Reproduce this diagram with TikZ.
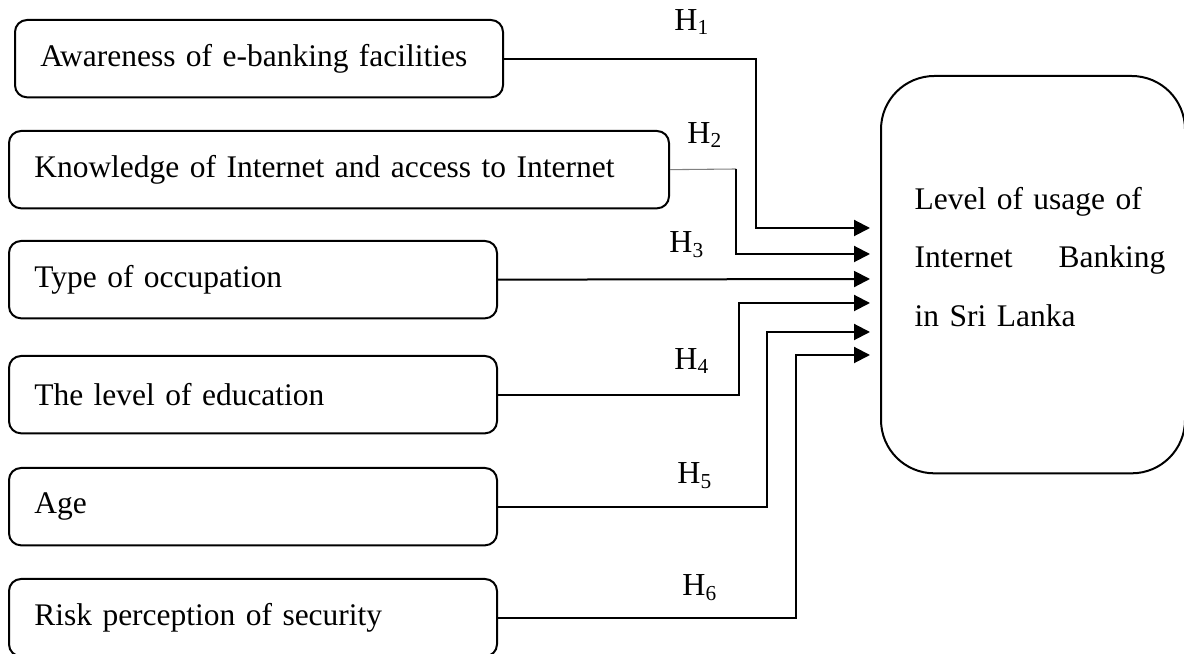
\documentclass[tikz,border=0pt]{standalone}
\usepackage{fontspec}
\setmainfont{Liberation Serif}
\usepackage{tikz}
\usetikzlibrary{positioning,arrows.meta,calc}

\begin{document}
\begin{tikzpicture}[
    x=0.375pt, y=-0.375pt,
    factor/.style={draw, rounded corners=4.5pt, line width=0.75pt, anchor=north west,
                   font=\fontsize{11.8}{14}\selectfont, align=left, inner xsep=9.5pt,
                   text width=164pt, minimum height=29pt},
    wide/.style={text width=228.5pt},
    usage/.style={draw, rounded corners=20pt, line width=0.75pt, anchor=north west,
                  minimum width=114pt, minimum height=149pt},
    usagetxt/.style={font=\fontsize{11.8}{22}\selectfont, align=left, text width=94pt,
                     inner sep=0pt},
    hyp/.style={font=\fontsize{12}{14}\selectfont, inner sep=0pt},
    link/.style={-{Triangle[length=6pt,width=6pt]}, line width=0.75pt},
  ]
    \useasboundingbox (0,0) rectangle (1184,654);
    \node[factor] (a1) at (14,19) {Awareness of e-banking facilities};
    \node[factor, wide] (a2) at (8,130) {Knowledge of Internet and access to Internet};
    \node[factor] (a3) at (8,240) {Type of occupation};
    \node[factor] (a4) at (8,355) {The level of education};
    \node[factor] (a5) at (8,467) {Age};
    \node[factor] (a6) at (8,578) {Risk perception of security};
    \node[usage] (dv) at (880,75) {};
    \node[usagetxt] (dvt) at (1040,257)
       {Level of usage of\\Internet\hfill Banking\\in Sri Lanka};
    % arrow tips stop just short of the outcome box
    \coordinate (in1) at (870,228);
    \coordinate (in2) at (870,254);
    \coordinate (in3) at (870,279);
    \coordinate (in4) at (870,303);
    \coordinate (in5) at (870,332);
    \coordinate (in6) at (870,355);
    \coordinate (b2) at (736,169);
    \draw[link] (a1.east) -| (756,228) -- (in1);
    \draw[gray, line width=0.4pt] (a2.east) -- (b2);
    \draw[link] (b2) |- (in2);
    \draw[link] (a3.east) -- (in3);
    \draw[link] (a4.east) -| (739,303) -- (in4);
    \draw[link] (a5.east) -| (767,332) -- (in5);
    \draw[link] (a6.east) -| (796,355) -- (in6);
    \node[hyp] (h1) at (692,22) {H\textsubscript{1}};
    \node[hyp] (h2) at (705,135) {H\textsubscript{2}};
    \node[hyp] (h3) at (687,245) {H\textsubscript{3}};
    \node[hyp] (h4) at (692,361) {H\textsubscript{4}};
    \node[hyp] (h5) at (695,476) {H\textsubscript{5}};
    \node[hyp] (h6) at (700,588) {H\textsubscript{6}};
  \end{tikzpicture}
\end{document}
